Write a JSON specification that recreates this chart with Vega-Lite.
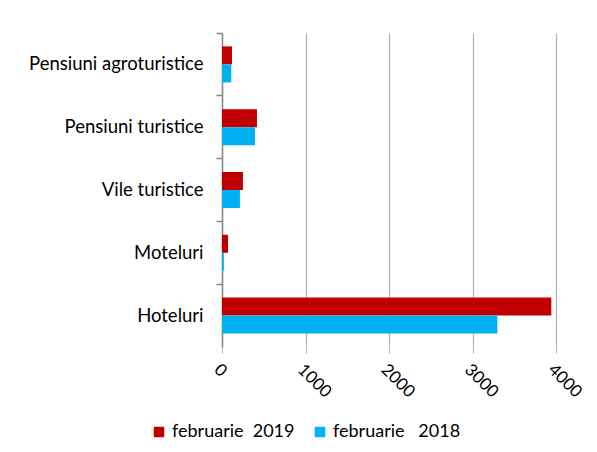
{
  "$schema": "https://vega.github.io/schema/vega-lite/v6.json",
  "autosize": {"type": "none"},
  "padding": {"left": 222, "top": 33, "right": 41, "bottom": 105},
  "width": 334,
  "height": 314,
  "background": "white",
  "config": {
    "font": "Lato",
    "view": {"stroke": null},
    "axis": {"labelFont": "Lato", "labelColor": "#000000", "labelFontSize": 16}
  },
  "data": {
    "values": [
      {"categorie": "Pensiuni agroturistice", "perioada": "februarie  2019", "valoare": 120},
      {"categorie": "Pensiuni agroturistice", "perioada": "februarie   2018", "valoare": 111},
      {"categorie": "Pensiuni turistice", "perioada": "februarie  2019", "valoare": 419},
      {"categorie": "Pensiuni turistice", "perioada": "februarie   2018", "valoare": 395},
      {"categorie": "Vile turistice", "perioada": "februarie  2019", "valoare": 251},
      {"categorie": "Vile turistice", "perioada": "februarie   2018", "valoare": 215},
      {"categorie": "Moteluri", "perioada": "februarie  2019", "valoare": 72},
      {"categorie": "Moteluri", "perioada": "februarie   2018", "valoare": 22},
      {"categorie": "Hoteluri", "perioada": "februarie  2019", "valoare": 3944},
      {"categorie": "Hoteluri", "perioada": "februarie   2018", "valoare": 3298}
    ]
  },
  "layer": [
    {
      "mark": {"type": "bar"},
      "encoding": {
        "y": {
          "field": "categorie",
          "type": "nominal",
          "sort": ["Pensiuni agroturistice", "Pensiuni turistice", "Vile turistice", "Moteluri", "Hoteluri"],
          "scale": {"paddingInner": 0, "paddingOuter": 0},
          "axis": {
            "title": null,
            "orient": "left",
            "ticks": false,
            "domain": true,
            "domainColor": "#868686",
            "domainWidth": 1.5,
            "labelPadding": 19,
            "labelFontSize": 18.5
          }
        },
        "yOffset": {
          "field": "perioada",
          "type": "nominal",
          "sort": ["februarie  2019", "februarie   2018"],
          "scale": {"paddingInner": 0, "paddingOuter": 0.744}
        },
        "x": {
          "field": "valoare",
          "type": "quantitative",
          "scale": {"domain": [0, 4000], "nice": false},
          "axis": {
            "title": null,
            "values": [0, 1000, 2000, 3000, 4000],
            "format": "d",
            "domain": false,
            "grid": true,
            "gridColor": "#B3B3B3",
            "gridWidth": 1.2,
            "tickColor": "#B3B3B3",
            "tickSize": 6,
            "labelAngle": 45,
            "labelAlign": "left",
            "labelBaseline": "top",
            "labelPadding": 8,
            "labelFontSize": 17
          }
        },
        "color": {
          "field": "perioada",
          "type": "nominal",
          "sort": ["februarie  2019", "februarie   2018"],
          "scale": {"domain": ["februarie  2019", "februarie   2018"], "range": ["#C00000", "#00B0F0"]},
          "legend": {
            "title": null,
            "orient": "none",
            "legendX": -72,
            "legendY": 390,
            "direction": "horizontal",
            "columns": 2,
            "symbolType": "square",
            "symbolSize": 110,
            "symbolStrokeWidth": 0,
            "labelFont": "Lato",
            "labelFontSize": 18,
            "labelColor": "#000000",
            "columnPadding": 16,
            "labelExpr": "replace(datum.label, / /g, '\u00a0')"
          }
        }
      }
    },
    {
      "mark": {"type": "bar", "opacity": 0},
      "encoding": {
        "y": {
          "field": "categorie",
          "type": "nominal",
          "sort": ["Pensiuni agroturistice", "Pensiuni turistice", "Vile turistice", "Moteluri", "Hoteluri"],
          "axis": {
            "title": null,
            "orient": "left",
            "bandPosition": 0,
            "labels": false,
            "domain": false,
            "ticks": true,
            "tickSize": 6,
            "tickColor": "#868686",
            "tickWidth": 1.5,
            "grid": false
          }
        },
        "x": {"field": "valoare", "type": "quantitative", "axis": null}
      }
    }
  ],
  "resolve": {"axis": {"y": "independent", "x": "independent"}}
}
